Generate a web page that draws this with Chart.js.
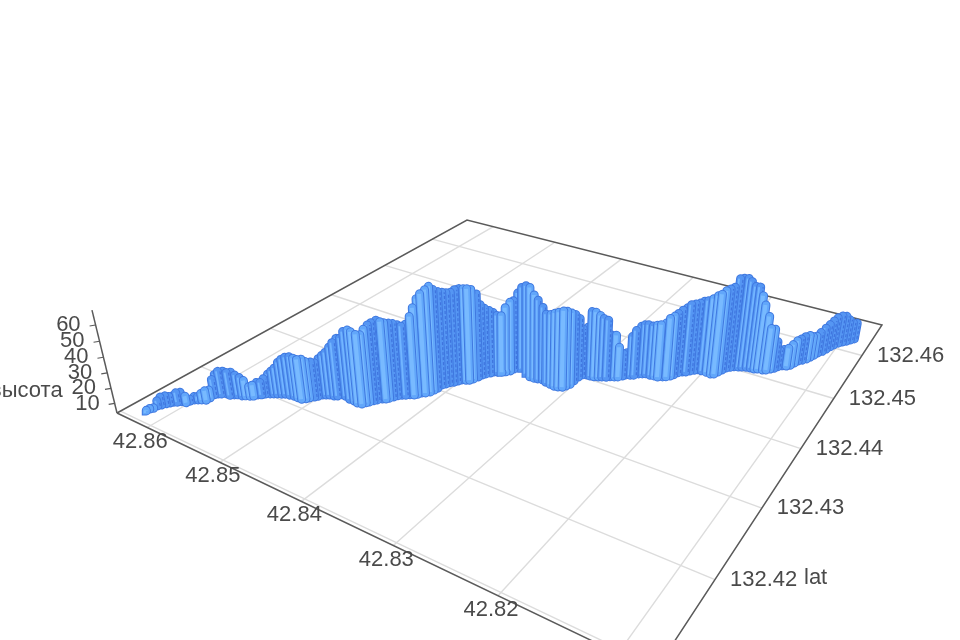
<!DOCTYPE html>
<html>
<head>
<meta charset="utf-8">
<title>высота</title>
<script src="https://cdn.jsdelivr.net/npm/chart.js@4"></script>
<style>
    html, body { margin: 0; background: #fff; }
    canvas { display: block; filter: blur(0.6px); }
</style>
</head>
<body>
<canvas id="grafico" width="960" height="640"></canvas>
<script>
// ===== Dados =====
const lonValues = [
    42.8624, 42.8624, 42.8622, 42.8622, 42.8620, 42.8618, 42.8616, 42.8614, 42.8611, 42.8608, 42.8603, 42.8602, 42.8600, 42.8597, 42.8594, 42.8590, 42.8590, 42.8591, 42.8589, 42.8586, 42.8582, 42.8577, 42.8574, 42.8571, 42.8566, 42.8563, 42.8559, 42.8556, 42.8554, 42.8551,
    42.8549, 42.8545, 42.8542, 42.8539, 42.8535, 42.8532, 42.8527, 42.8522, 42.8517, 42.8512, 42.8509, 42.8507, 42.8504, 42.8502, 42.8500, 42.8497, 42.8494, 42.8489, 42.8486, 42.8484, 42.8479, 42.8472, 42.8466, 42.8461, 42.8456, 42.8454, 42.8452, 42.8450, 42.8448, 42.8445,
    42.8442, 42.8440, 42.8438, 42.8436, 42.8433, 42.8430, 42.8427, 42.8423, 42.8421, 42.8419, 42.8416, 42.8413, 42.8412, 42.8411, 42.8411, 42.8409, 42.8407, 42.8404, 42.8402, 42.8400, 42.8396, 42.8393, 42.8391, 42.8389, 42.8388, 42.8386, 42.8383, 42.8381, 42.8378, 42.8374,
    42.8371, 42.8368, 42.8367, 42.8367, 42.8361, 42.8352, 42.8345, 42.8340, 42.8336, 42.8331, 42.8326, 42.8320, 42.8315, 42.8311, 42.8307, 42.8305, 42.8303, 42.8303, 42.8303, 42.8302, 42.8298, 42.8294, 42.8290, 42.8286, 42.8283, 42.8279, 42.8276, 42.8272, 42.8269, 42.8266,
    42.8264, 42.8260, 42.8257, 42.8254, 42.8251, 42.8248, 42.8243, 42.8239, 42.8235, 42.8231, 42.8228, 42.8225, 42.8223, 42.8221, 42.8218, 42.8215, 42.8212, 42.8209, 42.8206, 42.8202, 42.8197, 42.8192, 42.8189, 42.8187, 42.8185, 42.8183, 42.8180, 42.8177, 42.8173, 42.8170,
    42.8166, 42.8162, 42.8158, 42.8155, 42.8150, 42.8147, 42.8144, 42.8141, 42.8139, 42.8136, 42.8132, 42.8129, 42.8127, 42.8125, 42.8122, 42.8119, 42.8117, 42.8115, 42.8113, 42.8110, 42.8108, 42.8106, 42.8104, 42.8101, 42.8098, 42.8095, 42.8092, 42.8089
];
const latValues = [
    132.4114, 132.4118, 132.4121, 132.4126, 132.4129, 132.4133, 132.4136, 132.4139, 132.4141, 132.4144, 132.4145, 132.4149, 132.4153, 132.4155, 132.4157, 132.4159, 132.4164, 132.4170, 132.4173, 132.4175, 132.4178, 132.4178, 132.4181, 132.4183, 132.4184, 132.4186, 132.4188, 132.4190, 132.4194, 132.4196,
    132.4199, 132.4202, 132.4204, 132.4206, 132.4208, 132.4210, 132.4211, 132.4212, 132.4212, 132.4212, 132.4215, 132.4218, 132.4222, 132.4225, 132.4229, 132.4231, 132.4233, 132.4234, 132.4236, 132.4240, 132.4240, 132.4238, 132.4238, 132.4237, 132.4238, 132.4242, 132.4245, 132.4249, 132.4252, 132.4256,
    132.4258, 132.4261, 132.4265, 132.4269, 132.4272, 132.4274, 132.4277, 132.4279, 132.4282, 132.4286, 132.4288, 132.4292, 132.4297, 132.4302, 132.4309, 132.4313, 132.4317, 132.4320, 132.4324, 132.4328, 132.4330, 132.4332, 132.4336, 132.4342, 132.4347, 132.4351, 132.4355, 132.4359, 132.4361, 132.4363,
    132.4366, 132.4370, 132.4375, 132.4383, 132.4381, 132.4375, 132.4371, 132.4371, 132.4372, 132.4373, 132.4371, 132.4370, 132.4369, 132.4370, 132.4372, 132.4376, 132.4381, 132.4389, 132.4398, 132.4403, 132.4406, 132.4406, 132.4407, 132.4409, 132.4411, 132.4413, 132.4416, 132.4418, 132.4420, 132.4424,
    132.4428, 132.4430, 132.4432, 132.4437, 132.4439, 132.4441, 132.4441, 132.4442, 132.4442, 132.4445, 132.4447, 132.4451, 132.4455, 132.4461, 132.4465, 132.4467, 132.4471, 132.4475, 132.4478, 132.4478, 132.4478, 132.4477, 132.4479, 132.4485, 132.4491, 132.4497, 132.4501, 132.4504, 132.4506, 132.4508,
    132.4510, 132.4511, 132.4511, 132.4513, 132.4514, 132.4516, 132.4520, 132.4524, 132.4529, 132.4533, 132.4535, 132.4539, 132.4546, 132.4552, 132.4556, 132.4561, 132.4567, 132.4573, 132.4580, 132.4586, 132.4593, 132.4600, 132.4606, 132.4613, 132.4618, 132.4622, 132.4627, 132.4632
];
const heightValues = [
    4, 4, 4, 7, 9, 9, 8, 8, 10, 10, 8, 5, 6, 6, 8, 10, 9, 14, 17, 19, 19, 19, 19, 17, 16, 14, 10, 11, 12, 12,
    14, 17, 19, 21, 25, 27, 29, 30, 30, 30, 30, 28, 27, 26, 28, 30, 32, 36, 39, 41, 42, 48, 50, 50, 49, 48, 51, 53, 54, 55,
    54, 53, 52, 51, 50, 49, 50, 55, 60, 65, 68, 70, 71, 68, 65, 64, 63, 63, 64, 64, 64, 64, 63, 59, 51, 48, 46, 44, 42, 42,
    47, 50, 50, 53, 58, 62, 63, 59, 56, 52, 49, 50, 52, 53, 54, 53, 51, 48, 43, 35, 36, 47, 47, 45, 43, 42, 32, 32, 24, 19,
    19, 30, 34, 36, 37, 37, 37, 38, 39, 40, 43, 44, 45, 46, 47, 49, 49, 49, 50, 51, 53, 56, 57, 58, 58, 58, 63, 63, 63, 61,
    58, 58, 53, 47, 40, 32, 31, 22, 15, 15, 16, 18, 19, 19, 20, 20, 18, 17, 18, 20, 21, 22, 23, 23, 22, 19, 16, 15
];

const lonTicks = [42.86, 42.85, 42.84, 42.83, 42.82, 42.81];
const latTicks = [132.46, 132.45, 132.44, 132.43, 132.42, 132.41];
const heightTicks = [10, 20, 30, 40, 50, 60];

// ===== Projeção 3D (lon, lat, altura) -> eixos x/y do Chart.js =====
const lonMin = 42.8072, lonMax = 42.8645;
const latMin = 132.4096, latMax = 132.4681;
const heightMin = 3.6, heightMax = 69;

const cam = { a: -487.35, b: 810.4, c: 655, d: -79.2, e: -131.0, f: 671, g: 0.43288, h: 0.66148, r: -0.00126, vx: 527, vy: 2100 };

function profundidade(i) {
    const j = Math.max(0, Math.min(lonValues.length - 1, i));
    const s = (lonValues[j] - lonMin) / (lonMax - lonMin);
    const t = (latValues[j] - latMin) / (latMax - latMin);
    return cam.g * s + cam.h * t + 1;
}

function projetar(lon, lat, alt) {
    const s = (lon - lonMin) / (lonMax - lonMin);
    const t = (lat - latMin) / (latMax - latMin);
    const u = cam.r * (alt - heightMin);
    return {
        x: (cam.a * s + cam.b * t + cam.c + cam.vx * u) / (cam.g * s + cam.h * t + 1 + u),
        y: (cam.d * s + cam.e * t + cam.f + cam.vy * u) / (cam.g * s + cam.h * t + 1 + u)
    };
}

function linha(pontos, cor, largura, cap, dash) {
    return {
        data: pontos,
        showLine: true,
        borderColor: cor,
        borderWidth: largura,
        borderCapStyle: cap || 'butt',
        borderDash: dash || [],
        pointRadius: 0,
        fill: false
    };
}

function deslocar(pontos, dx) {
    return pontos.map(p => ({ x: p.x + dx, y: p.y }));
}

// ===== Barras: a mais próxima da câmera vai primeiro (fica por cima) =====
function gerarBarras() {
    const indices = lonValues.map((_, i) => i);
    indices.sort((p, q) => profundidade(p) - profundidade(q));

    const datasets = [];
    indices.forEach(i => {
        const pontos = [
            projetar(lonValues[i], latValues[i], heightMin),
            projetar(lonValues[i], latValues[i], heightValues[i])
        ];
        // barra saliente (mais perto que as vizinhas) fica mais clara
        const saliente = profundidade(i) < (profundidade(i - 3) + profundidade(i + 3)) / 2 - 0.0012;
        if (saliente) {
            datasets.push(linha(deslocar(pontos, -0.5), '#78baff', 4));
            datasets.push(linha(pontos, '#62a7fa', 7, 'round'));
        } else {
            datasets.push(linha(deslocar(pontos, -1.5), '#72b5ff', 1.8));
            datasets.push(linha(deslocar(pontos, 2.5), '#3f74de', 1.2, 'butt', [3, 2]));
            datasets.push(linha(pontos, '#5596f3', 7, 'round'));
        }
        datasets.push(linha(pontos, '#3f78e0', 9, 'round'));
    });
    return datasets;
}

// ===== Grade e eixos =====
function gerarEixos() {
    const datasets = [];
    const corEixo = '#5a5a5a';

    // caixa do chão
    datasets.push(linha([
        projetar(lonMax, latMin, heightMin),
        projetar(lonMax, latMax, heightMin),
        projetar(lonMin, latMax, heightMin),
        projetar(lonMin, latMin, heightMin),
        projetar(lonMax, latMin, heightMin)
    ], corEixo, 1.5));

    // eixo da altura
    datasets.push(linha([
        projetar(lonMax, latMin, heightMin),
        projetar(lonMax, latMin, heightMax)
    ], corEixo, 1.5));

    heightTicks.forEach(v => {
        const p = projetar(lonMax, latMin, v);
        datasets.push(linha([p, { x: p.x - 6, y: p.y + 1 }], corEixo, 1.2));
    });

    lonTicks.forEach(v => {
        datasets.push(linha([projetar(v, latMin, heightMin), projetar(v, latMax, heightMin)], '#dcdcdc', 1.4));
    });
    latTicks.forEach(v => {
        datasets.push(linha([projetar(lonMin, v, heightMin), projetar(lonMax, v, heightMin)], '#dcdcdc', 1.4));
    });
    return datasets;
}

// ===== Textos dos eixos =====
const rotulosPlugin = {
    id: 'rotulos',
    afterDraw(chart) {
        const ctx = chart.ctx;
        const { x: escalaX, y: escalaY } = chart.scales;
        const escrever = (texto, p, dx, dy, align) => {
            ctx.textAlign = align;
            ctx.fillText(texto, escalaX.getPixelForValue(p.x) + dx, escalaY.getPixelForValue(p.y) + dy);
        };

        ctx.save();
        ctx.font = '22px "Liberation Sans"';
        ctx.fillStyle = '#4a4a4a';
        ctx.textBaseline = 'middle';

        lonTicks.forEach(v => escrever(v.toFixed(2), projetar(v, latMin, heightMin), -7, 14, 'center'));
        latTicks.forEach(v => escrever(v.toFixed(2), projetar(lonMin, v, heightMin), 15, 0, 'left'));
        heightTicks.forEach(v => escrever(String(v), projetar(lonMax, latMin, v), -15, 0, 'right'));

        escrever('высота', projetar(lonMax, latMin, 21), -48, 4, 'right');
        escrever('lat', projetar(lonMin, 132.42, heightMin), 89, -2, 'left');
        ctx.restore();
    }
};

// ===== Gerar Gráfico =====
const ctx = document.getElementById('grafico').getContext('2d');
new Chart(ctx, {
    type: 'scatter',
    data: { datasets: [...gerarBarras(), ...gerarEixos()] },
    options: {
        responsive: false,
        animation: false,
        events: [],
        plugins: { legend: { display: false }, tooltip: { enabled: false } },
        scales: {
            x: { type: 'linear', min: 0, max: 960, display: false },
            y: { type: 'linear', min: 0, max: 640, reverse: true, display: false }
        }
    },
    plugins: [rotulosPlugin]
});
</script>
</body>
</html>
